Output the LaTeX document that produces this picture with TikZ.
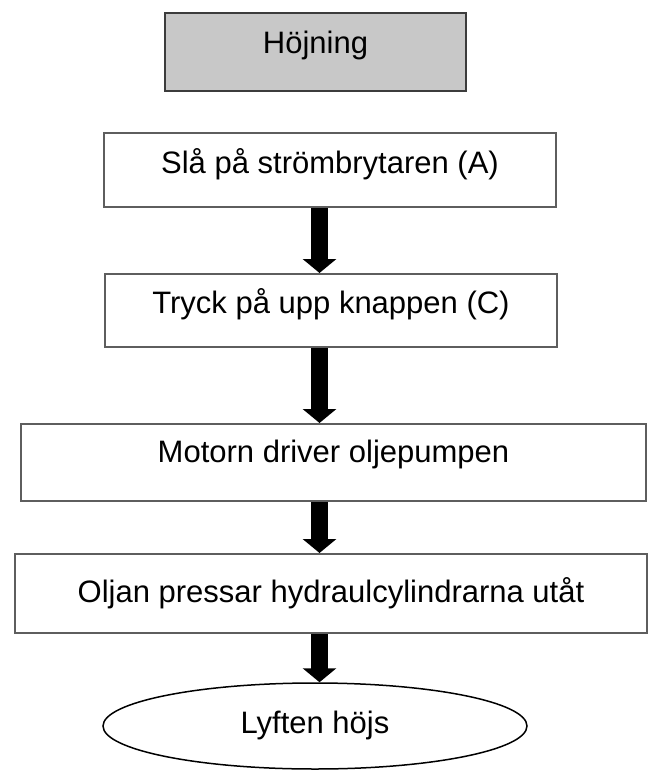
\documentclass[tikz,border=0pt]{standalone}
\usepackage{fontspec}
\setmainfont{Liberation Sans}
\usetikzlibrary{shapes.geometric}
\usetikzlibrary{arrows.meta}
\pgfdeclarelayer{nodelayer}
\pgfdeclarelayer{edgelayer}
\pgfsetlayers{edgelayer,nodelayer,main}
\definecolor{boxgrey}{HTML}{5E5E5E}
\definecolor{titlefill}{HTML}{C8C8C8}
\definecolor{titleline}{HTML}{3C3C3C}
\tikzstyle{stepbox}=[shape=rectangle, draw=boxgrey, line width=2pt, fill=white, inner sep=0pt, text height=22pt, font=\fontsize{31}{37}\selectfont]
\tikzstyle{titlebox}=[stepbox, draw=titleline, fill=titlefill]
\tikzstyle{endpoint}=[shape=ellipse, draw=black, line width=1.5pt, fill=white, inner sep=0pt, text height=22pt, font=\fontsize{31}{37}\selectfont]
\tikzstyle{flow}=[line width=17pt, -{Triangle[width=33pt, length=14pt]}]

\begin{document}
\begin{tikzpicture}[x=1pt, y=-1pt]
    \useasboundingbox (0, 0) rectangle (654, 771);
    			\begin{pgfonlayer}{nodelayer}
    				\node [style=titlebox, minimum width=301pt, minimum height=78pt, text depth=19pt] (title) at (315.5, 52) {Höjning};
    				\node [style=stepbox, minimum width=452pt, minimum height=74pt, text depth=15pt] (switch) at (330, 170) {Slå på strömbrytaren (A)};
    				\node [style=stepbox, minimum width=452pt, minimum height=73pt, text depth=17pt] (upbutton) at (331, 310.5) {Tryck på upp knappen (C)};
    				\node [style=stepbox, minimum width=625pt, minimum height=77pt, text depth=22pt] (motor) at (333.5, 462.5) {Motorn driver oljepumpen};
    				\node [style=stepbox, minimum width=632pt, minimum height=79pt, text depth=4pt] (cylinders) at (331, 593.5) {Oljan pressar hydraulcylindrarna utåt};
    				\node [style=endpoint, minimum width=424pt, minimum height=86pt, text depth=7pt] (raised) at (315, 726) {Lyften höjs};
    				\coordinate (axis) at (319.5, 0);
    			\end{pgfonlayer}
    			\begin{pgfonlayer}{edgelayer}
    				\draw [style=flow] (switch.south -| axis) to (upbutton.north -| axis);
    				\draw [style=flow] (upbutton.south -| axis) to (motor.north -| axis);
    				\draw [style=flow] (motor.south -| axis) to (cylinders.north -| axis);
    				\draw [style=flow] (cylinders.south -| axis) to (raised.north -| axis);
    			\end{pgfonlayer}
    		\end{tikzpicture}
\end{document}
